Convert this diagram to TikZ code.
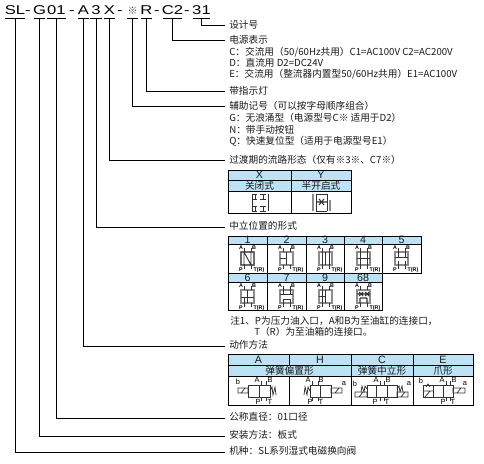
\documentclass[tikz,border=0pt]{standalone}
\usepackage{graphicx}
\usepackage{fontspec}
\setmainfont{Noto Sans CJK SC}
\newfontfamily\latf{Liberation Sans}
\tikzset{
  x=0.75pt,y=-0.75pt,
  lab/.style={anchor=west,inner sep=0pt,text height=5.2pt,text depth=0.8pt,text=black!90,font=\fontsize{7.25pt}{8pt}\selectfont},
  code/.style={anchor=south,inner sep=0pt,text height=7pt,text depth=2.2pt,font=\latf\fontsize{9.6pt}{10pt}\selectfont},
  conn/.style={draw=black,line width=0.75pt},
  head/.style={draw=black,line width=0.6pt,fill=headblue},
  body/.style={draw=black,line width=0.75pt,fill=white},
  celltxt/.style={inner sep=0pt,text=black!90,font=\fontsize{7.25pt}{8pt}\selectfont},
  hdrtxt/.style={inner sep=0pt,text=black!90,font=\latf\fontsize{8pt}{9pt}\selectfont},
  sym/.style={draw=black!80,line width=0.55pt},
  symg/.style={draw=black!45,line width=0.9pt},
  port/.style={inner sep=0pt,font=\latf\bfseries\fontsize{4pt}{4pt}\selectfont},
  portb/.style={inner sep=0pt,font=\latf\fontsize{5.6pt}{6pt}\selectfont},
}
\definecolor{headblue}{HTML}{BDE2F5}
\newcommand{\hcell}[6]{%
  \path[head] (#2,#3) rectangle (#4,#5);
  \node[hdrtxt] (#1) at ({(#2+#4)/2},{(#3+#5)/2}) {#6};}
\newcommand{\ccell}[6]{%
  \path[head] (#2,#3) rectangle (#4,#5);
  \node[celltxt] (#1) at ({(#2+#4)/2},{(#3+#5)/2}) {#6};}
\newcommand{\sval}[3]{%
  \begin{scope}[shift={(#1,#2)}]
    \path[symg] (13,8) rectangle (26,21);
    \path[sym] (16,4) -- (16,8) (23,4) -- (23,8) (16,21) -- (16,25) (23,21) -- (23,25);
    #3
    \node[port] at (13,4) {A};
    \node[port] at (26,4) {B};
    \node[port] at (13,25.5) {P};
    \node[port] at (31,26) {T(R)};
  \end{scope}}
\newcommand{\bigports}[8]{%
  \node[portb] at (#1,379.5) {A};
  \node[portb] at (#2,379.5) {B};
  \node[portb] at (#3,401.5) {P};
  \node[portb] at (#4,401.5) {T};
  \path[sym] (#5,381) -- (#5,385) (#6,381) -- (#6,385) (#7,397) -- (#7,401) (#8,397) -- (#8,401);}
\begin{document}
\begin{tikzpicture}
\path[use as bounding box] (0,0) rectangle (484,463);
% code line
\node[code] (cSL) at (15,18) {\scalebox{1.3}[1]{SL}};
\node[code] (d1) at (28,18) {\scalebox{1.3}[1]{-}};
\node[code] (cG) at (39.5,18) {\scalebox{1.3}[1]{G}};
\node[code] (c01) at (56.5,18) {\scalebox{1.3}[1]{01}};
\node[code] (d2) at (72,18) {\scalebox{1.3}[1]{-}};
\node[code] (cA) at (83.5,18) {\scalebox{1.3}[1]{A}};
\node[code] (c3) at (96,18) {\scalebox{1.3}[1]{3}};
\node[code] (cX) at (109.5,18) {\scalebox{1.3}[1]{X}};
\node[code] (d3) at (120,18) {\scalebox{1.3}[1]{-}};
\node[code,font=\fontsize{7.5pt}{8pt}\selectfont,text=black!70] (cM) at (132.5,18) {※};
\node[code] (cR) at (146.5,18) {\scalebox{1.3}[1]{R}};
\node[code] (d4) at (157,18) {\scalebox{1.3}[1]{-}};
\node[code] (cC2) at (172.5,18) {\scalebox{1.3}[1]{C2}};
\node[code] (d5) at (187,18) {\scalebox{1.3}[1]{-}};
\node[code] (c31) at (201.5,18) {\scalebox{1.3}[1]{31}};
% underlines
\foreach \a/\b in {5/25,34/45,47/66,78/89,90/102,104/115,127/138,141/152,163/182,193/210}{
  \draw[conn] (\a,18.4) -- (\b,18.4);
}
% labels
\node[lab] (l31) at (229,25.5) {设计号};
\node[lab] (lC2) at (229,41) {电源表示};
\node[lab] (t1) at (229,53) {C：交流用（50/60Hz共用）C1=AC100V C2=AC200V};
\node[lab] (t2) at (229,64) {D：直流用 D2=DC24V};
\node[lab] (t3) at (229,75) {E：交流用（整流器内置型50/60Hz共用）E1=AC100V};
\node[lab] (lR) at (229,92) {带指示灯};
\node[lab] (lM) at (229,107) {辅助记号（可以按字母顺序组合）};
\node[lab] (t4) at (229,119) {G：无浪涌型（电源型号C※ 适用于D2）};
\node[lab] (t5) at (229,131) {N：带手动按钮};
\node[lab] (t6) at (229,142) {Q：快速复位型（适用于电源型号E1）};
\node[lab] (lX) at (229,161) {过渡期的流路形态（仅有※3※、C7※）};
\node[lab] (l3) at (229,227) {中立位置的形式};
\node[lab] (t7) at (230,322) {注1、P为压力油入口，A和B为至油缸的连接口，};
\node[lab] (t8) at (254,333) {T（R）为至油箱的连接口。};
\node[lab] (lA) at (229,346) {动作方法};
\node[lab] (l01) at (229,418) {公称直径：01口径};
\node[lab] (lG) at (229,436) {安装方法：板式};
\node[lab] (lSL) at (229,452) {机种：SL系列湿式电磁换向阀};
% connectors
\foreach \c/\l in {c31/l31,cC2/lC2,cR/lR,cM/lM,cX/lX,c3/l3,cA/lA,c01/l01,cG/lG,cSL/lSL}{
  \draw[conn] (\c.south) |- ([xshift=-3pt]\l.west);
}
% table X/Y
\hcell{tX}{228}{170}{291}{180}{X}
\hcell{tY}{291}{170}{351}{180}{Y}
\ccell{tXn}{228}{180}{291}{191}{关闭式}
\ccell{tYn}{291}{180}{351}{191}{半开启式}
\path[body] (228,191) rectangle (291,213);
\path[body] (291,191) rectangle (351,213);
\path[sym] (252,194) -- (252,211) (268,194) -- (268,211);
\path[sym] (252,194) -- (257,194) (255,194) -- (255,199) (252,199) -- (257,199);
\path[sym] (260,194) -- (266,194) (263,194) -- (263,199) (260,199) -- (266,199);
\path[sym] (252,206) -- (257,206) (255,206) -- (255,211) (252,211) -- (257,211);
\path[sym] (260,206) -- (266,206) (263,206) -- (263,211) (260,211) -- (266,211);
\path[symg] (313,194) -- (313,211) (330,200) -- (330,211);
\path[sym] (316,194) -- (316,211) (327,194) -- (327,211) (316,194) -- (327,194) (316,211) -- (327,211);
\path[sym,line width=0.8pt] (316,202) -- (327,202) (319,199) -- (324,205) (319,205) -- (324,199);
% table neutral
\foreach \n/\a/\b/\t in {h1/228/267/1,h2/267/306/2,h3/306/344/3,h4/344/382/4,h5/382/421/5}{
  \hcell{\n}{\a}{236}{\b}{244}{\t}
  \path[body] (\a,244) rectangle (\b,273);
}
\foreach \n/\a/\b/\t in {h6/228/267/6,h7/267/306/7,h9/306/344/9,h68/344/382/68}{
  \hcell{\n}{\a}{273}{\b}{282}{\t}
  \path[body] (\a,282) rectangle (\b,310);
}
\sval{228}{244}{\path[sym,line width=0.7pt] (13,8) rectangle (26,21) (16,8) -- (23,21) (16,21)--(16,8) (23,8)--(23,21);}
\sval{267}{244}{\path[sym] (19.5,8) -- (19.5,21) (13,14) -- (19,14);}
\sval{306}{244}{\path[sym] (19.5,8) -- (19.5,21) (16,8) -- (16,21) (23,8) -- (23,21);}
\sval{344}{244}{\path[sym] (16,8) -- (16,21) (23,8) -- (23,21) (13,14) -- (26,14);}
\sval{382}{244}{\path[sym] (13,13) -- (26,13) (16,8) -- (16,13) (23,8) -- (23,13) (16,17) -- (16,21) (23,17) -- (23,21);}
\sval{228}{282}{\path[sym] (19.5,8) -- (19.5,21) (13,15) -- (26,15) (16,15) -- (16,21);}
\sval{267}{282}{\path[sym] (13,12) -- (26,12) (16,8) -- (16,12) (23,8) -- (23,12) (16,17) -- (23,17) (16,17) -- (16,21) (23,17) -- (23,21);}
\sval{306}{282}{\path[sym] (19.5,8) -- (19.5,21) (16,8) -- (16,21) (13,14) -- (19,14);}
\sval{344}{282}{\path[sym,line width=0.8pt] (13,12) -- (26,12) (15,10) -- (19,14) (15,14) -- (19,10) (21,10) -- (25,14) (21,14) -- (25,10) (16,16) -- (16,21) (23,16) -- (23,21) (16,16) -- (23,16);}
% table actuator
\hcell{tA}{228}{354}{289}{365}{A}
\hcell{tH}{289}{354}{351}{365}{H}
\hcell{tC}{351}{354}{413}{365}{C}
\hcell{tE}{413}{354}{473}{365}{E}
\ccell{tS1}{228}{365}{351}{376}{弹簧偏置形}
\ccell{tS2}{351}{365}{413}{376}{弹簧中立形}
\ccell{tS3}{413}{365}{473}{376}{爪形}
\path[body] (228,376) rectangle (289,405);
\path[body] (289,376) rectangle (351,405);
\path[body] (351,376) rectangle (413,405);
\path[body] (413,376) rectangle (473,405);
% A
\path[sym] (248,385) rectangle (270,397) (259,385) -- (259,397);
\path[sym] (238,388) rectangle (248,393) (241,393) -- (245,388);
\path[sym] (270,391) -- (272,387) -- (273,395) -- (275,387) -- (276,395);
\node[portb] at (238,382) {b};
\bigports{257}{270}{258}{270}{261}{266}{261}{266}
% H
\path[sym] (310,385) rectangle (331,397) (320,385) -- (320,397);
\path[sym] (331,388) rectangle (342,393) (335,393) -- (339,388);
\path[sym] (310,391) -- (308,387) -- (307,395) -- (305,387) -- (304,395);
\node[portb] at (344,384) {a};
\bigports{308}{321}{310}{321}{312}{318}{312}{318}
% C
\path[sym] (367,385) rectangle (397,397) (376,385) -- (376,397) (387,385) -- (387,397);
\path[sym] (355,392) rectangle (367,397) (359,397) -- (363,392);
\path[sym] (397,392) rectangle (408,397) (401,397) -- (405,392);
\path[sym] (367,389) -- (365,386) -- (364,392) -- (362,386) -- (361,392);
\path[sym] (397,389) -- (399,386) -- (400,392) -- (402,386) -- (403,392);
\node[portb] at (355,384) {b};
\node[portb] at (409,384) {a};
\bigports{376}{388}{375}{387}{380}{384}{380}{384}
% E
\path[sym] (423,385) rectangle (453,397) (433,385) -- (433,397) (443,385) -- (443,397);
\path[sym] (423,391) -- (433,391) (425,397) -- (430,391);
\path[sym] (426,387) -- (428,384) -- (430,387);
\path[sym] (453,388) rectangle (465,393) (457,393) -- (461,388);
\node[portb] at (421,381) {b};
\node[portb] at (465,384) {a};
\bigports{442}{454}{443}{453}{446}{450}{446}{450}
\end{tikzpicture}
\end{document}
